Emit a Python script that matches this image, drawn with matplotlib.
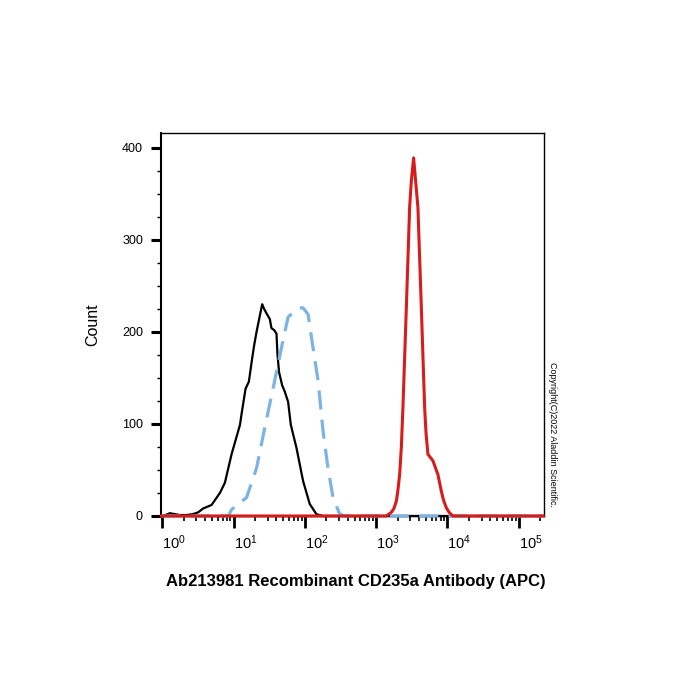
import matplotlib
matplotlib.use("Agg")
import matplotlib.pyplot as plt
from matplotlib.ticker import MultipleLocator, LogLocator, NullFormatter

plt.rcParams['font.family'] = ['Liberation Sans', 'DejaVu Sans']
plt.rcParams['mathtext.fontset'] = 'custom'
plt.rcParams['mathtext.rm'] = 'Liberation Sans'

# isotype / unstained (black)
black_x = [0.97, 1.03, 1.28, 1.5, 1.77, 2.2, 2.69, 3.2, 3.72, 4.92, 6.43, 7.55, 9.37,
           12.3, 12.9, 14.7, 16.4, 17.9, 19.4, 21.0, 23.4, 25.2, 26.8, 29.0, 32.2,
           34.0, 37.0, 40.0, 41.3, 43.5, 48.0, 52.3, 58.2, 63.5, 76.2, 94.4, 117,
           145, 178, 2.2e5]
black_y = [0, 0, 3, 2, 1, 1, 2, 4, 8, 12, 25, 36, 67,
           99, 110, 138, 146, 167, 185, 200, 218, 230, 225, 220, 214,
           204, 202, 198, 175, 156, 142, 135, 124, 99, 74, 38, 13,
           2, 0, 0]

# CD235a sample, dashed blue
blue_x = [0.97, 8.5, 9.37, 15.2, 21.0, 27.4, 35.9, 47.0, 58.2, 68.4, 85, 94.4,
          111, 130, 153, 180, 211, 248, 308, 363, 2.2e5]
blue_y = [0, 0, 7, 20, 52, 96, 139, 183, 216, 221, 226, 226,
          219, 183, 147, 92, 52, 20, 2, 0, 0]

# CD235a APC (red)
red_x = [0.97, 1390, 1633, 1770, 1918, 2018, 2134, 2255, 2373, 2648, 2944, 3112,
         3350, 3573, 3850, 4300, 4780, 5000, 5320, 6250, 7340, 8190, 8810, 9620,
         10520, 11900, 2.2e5]
red_y = [0, 0, 4, 8, 16, 28, 45, 75, 118, 226, 335, 364,
         389, 364, 335, 226, 118, 90, 67, 60, 45, 27, 17, 9,
         4, 0, 0]

x_major = [1, 10, 100, 1000, 10000, 100000]
x_labels = [r'$\mathregular{10^{%d}}$' % i for i in range(6)]
y_major = [0, 100, 200, 300, 400]

fig = plt.figure(figsize=(7, 7), dpi=100)
ax = fig.add_axes([0.23, 0.2629, 0.547, 0.5471])

ax.plot(black_x, black_y, color='black', lw=1.6, clip_on=False, zorder=3)
ax.plot(blue_x, blue_y, color='#7db3e2', lw=2.3, dashes=[6, 3.2], clip_on=False, zorder=4)
ax.plot(red_x, red_y, color='#d81c1c', lw=2.2, clip_on=False, zorder=5)

ax.set_xscale('log')
ax.set_xlim(0.96, 2.25e5)
ax.set_ylim(0, 416)

ax.set_xticks(x_major, labels=x_labels)
ax.xaxis.set_minor_locator(LogLocator(base=10, subs=range(2, 10), numticks=50))
ax.xaxis.set_minor_formatter(NullFormatter())
for lab in ax.get_xticklabels():
    lab.set_horizontalalignment('left')

ax.set_yticks(y_major)
ax.yaxis.set_minor_locator(MultipleLocator(25))

ax.tick_params(axis='x', which='major', direction='out', length=8.5, width=2.0, pad=4, labelsize=10.5)
ax.tick_params(axis='x', which='minor', direction='out', length=3.5, width=1.2)
ax.tick_params(axis='y', which='major', direction='out', length=7, width=2.2, pad=6, labelsize=9)
ax.tick_params(axis='y', which='minor', direction='out', length=3, width=1.0)

for side in ['top', 'right', 'bottom']:
    ax.spines[side].set_linewidth(1.0)
ax.spines['left'].set_linewidth(1.5)

ax.set_ylabel('Count', fontsize=11.5)
ax.yaxis.set_label_coords(-0.159, 0.5)
ax.set_xlabel('Ab213981 Recombinant CD235a Antibody (APC)', fontsize=12, fontweight='bold', va='top')
ax.xaxis.set_label_coords(0.508, -0.152)

fig.text(553 / 700, 1 - 435 / 700, 'Copyright(C)2022 Aladdin Scientific.',
         rotation=270, ha='center', va='center', fontsize=6.5)

fig.savefig('out.png', dpi=100)
